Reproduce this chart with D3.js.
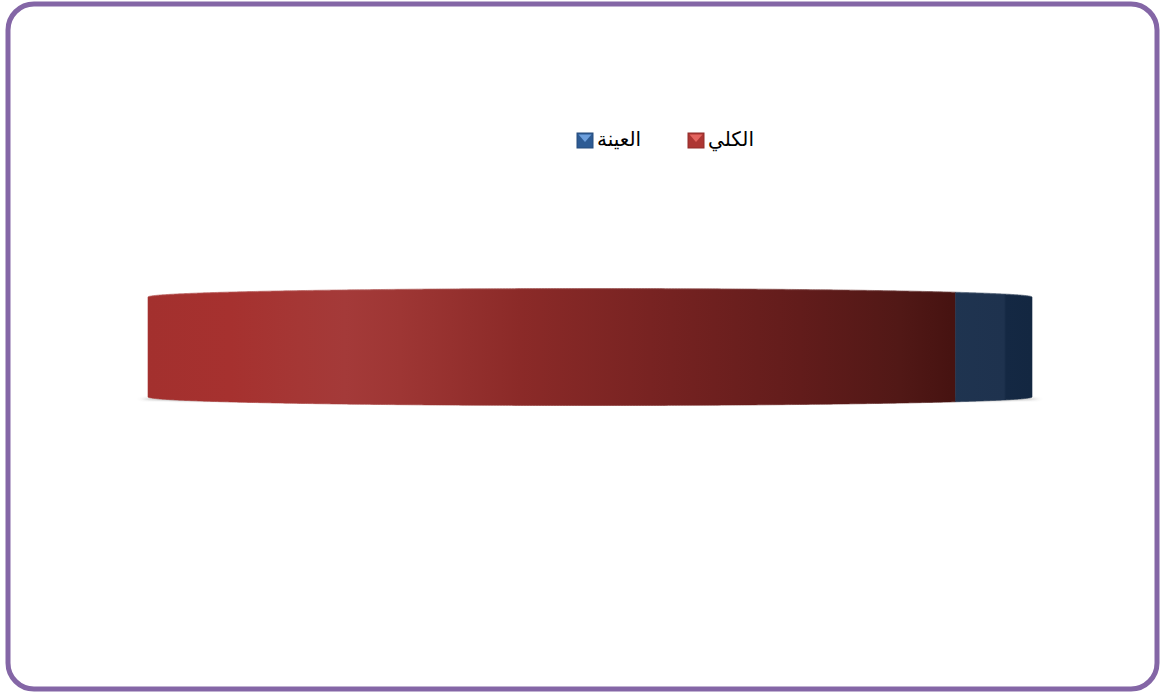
<!DOCTYPE html>
<html><head><meta charset="utf-8">
<script src="https://cdn.jsdelivr.net/npm/d3@7/dist/d3.min.js"></script>
<style>html,body{margin:0;padding:0;background:#fff;}svg{display:block;}</style>
</head><body>
<svg id="c" width="1160" height="695"></svg>
<script>
// Data
const categories = ["الكلي", "العينة"];
const values = [65.5, 34.5];
const colors = ["#a3302e", "#1f3350"];

const svg = d3.select("#c");

// Border
svg.append("rect").attr("x", 8).attr("y", 4).attr("width", 1149).attr("height", 685)
  .attr("rx", 26).attr("ry", 26).attr("fill", "#fff")
  .attr("stroke", "#8466a6").attr("stroke-width", 5);

const defs = svg.append("defs");

// 3D edge-on pie geometry
const cx = 590, R = 442, cy = 347, halfH = 50, bulge = 8.5;
const pie = d3.pie().sort(null).value(d => d)(values);

const xScale = d3.scaleLinear().domain([-1, 1]).range([cx - R, cx + R]);

const gRed = defs.append("linearGradient").attr("id", "gRed")
  .attr("gradientUnits", "userSpaceOnUse").attr("x1", cx - R).attr("x2", cx + R).attr("y1", 0).attr("y2", 0);
[[148, "#a3302e"], [230, "#a6312f"], [300, "#a53735"], [345, "#a43a39"], [400, "#9e3634"], [520, "#8b2a28"],
 [650, "#782322"], [800, "#621c1b"], [900, "#511816"], [950, "#471311"], [1032, "#3f1210"]]
 .forEach(([x, c]) => gRed.append("stop").attr("offset", (x - (cx - R)) / (2 * R)).attr("stop-color", c));
const gBlue = defs.append("linearGradient").attr("id", "gBlue")
  .attr("gradientUnits", "userSpaceOnUse").attr("x1", cx - R).attr("x2", cx + R).attr("y1", 0).attr("y2", 0);
[[940, "#1f3450"], [1004, "#1e324e"], [1006, "#142843"], [1032, "#132741"]]
 .forEach(([x, c]) => gBlue.append("stop").attr("offset", (x - (cx - R)) / (2 * R)).attr("stop-color", c));
const fills = ["url(#gRed)", "url(#gBlue)"];

// shadow
const blur = defs.append("filter").attr("id", "blur").attr("x", "-10%").attr("y", "-200%").attr("width", "120%").attr("height", "500%");
blur.append("feGaussianBlur").attr("stdDeviation", "3 1.2");
svg.append("ellipse").attr("cx", cx).attr("cy", cy + halfH + 2).attr("rx", R + 6).attr("ry", 3)
  .attr("fill", "#8a8a8a").attr("opacity", 0.9).attr("filter", "url(#blur)");

// d3 angle (0 = 12 o'clock, clockwise) -> view angle (seen from below)
const theta = a => -Math.PI / 2 - a;

pie.forEach((s, i) => {
  const N = 600;
  const pts = [];
  for (let k = 0; k <= N; k++) {
    const a = s.startAngle + (s.endAngle - s.startAngle) * k / N;
    const t = theta(a);
    const depth = Math.sin(t);
    if (depth >= -1e-9) pts.push({ x: xScale(Math.cos(t)), d: Math.max(0, depth) });
  }
  if (pts.length < 2) return;
  pts.sort((p, q) => p.x - q.x);
  const top = pts.map(p => [p.x, cy - halfH - bulge * p.d]);
  const bot = pts.map(p => [p.x, cy + halfH + bulge * p.d]).reverse();
  svg.append("path").attr("d", d3.line()(top.concat(bot)) + "Z")
    .attr("fill", fills[i]).attr("stroke", fills[i]).attr("stroke-width", 0.6);
  svg.append("path").attr("d", d3.line()(top)).attr("fill", "none")
    .attr("stroke", "#ffffff").attr("stroke-opacity", 0.12).attr("stroke-width", 1.5);
});

// Legend
const legend = [
  { label: categories[1], color: "#2d5b94", light: "#6d9fdc", x: 577 },
  { label: categories[0], color: "#ad3633", light: "#e4645f", x: 688 }
];
const ly = 133;
legend.forEach(l => {
  const g = svg.append("g");
  g.append("rect").attr("x", l.x).attr("y", ly).attr("width", 16).attr("height", 15).attr("fill", l.color);
  g.append("path").attr("d", `M${l.x + 1.5},${ly + 1.5}L${l.x + 14.5},${ly + 1.5}L${l.x + 8},${ly + 9}Z`).attr("fill", l.light);
  g.append("rect").attr("x", l.x).attr("y", ly).attr("width", 16).attr("height", 15).attr("fill", "none")
    .attr("stroke", d3.color(l.color).darker(0.5)).attr("stroke-width", 1);
  g.append("text").attr("x", l.x + 20).attr("y", ly + 13)
    .attr("text-anchor", "start")
    .attr("font-family", "DejaVu Sans, Arial, sans-serif").attr("font-size", 20).attr("fill", "#000")
    .text(l.label);
});
</script>
</body></html>
